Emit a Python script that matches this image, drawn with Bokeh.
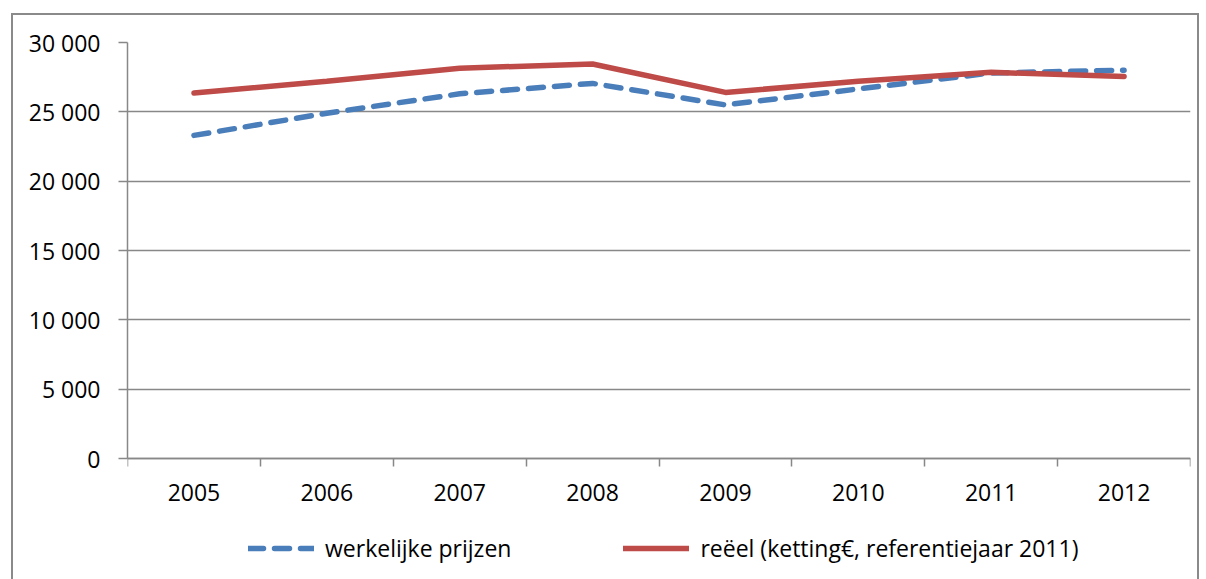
from bokeh.plotting import figure
from bokeh.models import FixedTicker, LinearAxis, Legend, LegendItem, Range1d
from bokeh.embed import file_html
from bokeh.resources import INLINE

years = ["2005", "2006", "2007", "2008", "2009", "2010", "2011", "2012"]
werkelijke = [23300, 24900, 26300, 27050, 25500, 26650, 27800, 28000]
reeel = [26350, 27200, 28150, 28450, 26400, 27200, 27850, 27550]
y_ticks = [0, 5000, 10000, 15000, 20000, 25000, 30000]
y_labels = ["0", "5 000", "10 000", "15 000", "20 000", "25 000", "30 000"]
series_names = ["werkelijke prijzen", "reëel (ketting€, referentiejaar 2011)"]

FONT = "Open Sans"
FS = "23px"
GRID = "#888888"

# layout (px, inside the outer border)
W, H = 1188, 570
TOP, LEFT, RIGHT = 27, 114, 11
ZERO_Y = 443            # pixel row of value 0
YMAX = y_ticks[-1]
px_per_unit = (ZERO_Y - TOP) / YMAX
y_start = -(H - ZERO_Y) / px_per_unit

n = len(years)
xc = [i + 0.5 for i in range(n)]

p = figure(width=W, height=H, output_backend="svg", toolbar_location=None,
           x_range=Range1d(0, n), y_range=Range1d(y_start, YMAX),
           x_axis_location=None,
           min_border_left=LEFT, min_border_right=RIGHT, min_border_top=TOP,
           min_border_bottom=0)
p.outline_line_color = None
p.background_fill_color = "white"
p.border_fill_color = "white"
p.styles = {"border": "2px solid #8a8a8a", "margin-left": "11px", "margin-top": "13px"}

# y axis
p.yaxis.ticker = FixedTicker(ticks=y_ticks)
p.yaxis.bounds = (0, YMAX)
p.yaxis.major_label_overrides = {t: l for t, l in zip(y_ticks, y_labels)}
p.yaxis.axis_line_color = GRID
p.yaxis.axis_line_width = 1.5
p.yaxis.major_tick_line_color = GRID
p.yaxis.major_tick_line_width = 1.5
p.yaxis.major_tick_out = 9
p.yaxis.major_tick_in = 0
p.yaxis.minor_tick_line_color = None
p.yaxis.major_label_standoff = 18
p.yaxis.major_label_text_font = FONT
p.yaxis.major_label_text_font_size = FS
p.yaxis.major_label_text_color = "black"

p.ygrid.ticker = FixedTicker(ticks=y_ticks)
p.ygrid.grid_line_color = GRID
p.ygrid.grid_line_width = 1.5
p.xgrid.visible = False

# x axis at value 0: labels at category centres, ticks at category boundaries
xaxis = LinearAxis(fixed_location=0,
                   ticker=FixedTicker(ticks=xc, minor_ticks=list(range(n + 1))),
                   major_label_overrides={c: y for c, y in zip(xc, years)})
xaxis.axis_line_color = GRID
xaxis.axis_line_width = 1.5
xaxis.major_tick_line_color = None
xaxis.major_tick_out = 0
xaxis.major_tick_in = 0
xaxis.minor_tick_line_color = GRID
xaxis.minor_tick_line_width = 1.5
xaxis.minor_tick_out = 8
xaxis.minor_tick_in = 0
xaxis.major_label_standoff = 17
xaxis.major_label_text_font = FONT
xaxis.major_label_text_font_size = FS
xaxis.major_label_text_color = "black"
p.add_layout(xaxis, "below")

r1 = p.line(xc, werkelijke, line_color="#4a7ebb", line_width=5.5,
            line_dash="15 11", line_cap="round")
r2 = p.line(xc, reeel, line_color="#be4b48", line_width=5.5, line_cap="round")

legend = Legend(items=[LegendItem(label=series_names[0], renderers=[r1]),
                       LegendItem(label=series_names[1], renderers=[r2])],
                orientation="horizontal", location=(121, 21))
legend.border_line_color = None
legend.background_fill_alpha = 0
legend.padding = 0
legend.margin = 0
legend.spacing = 112
legend.glyph_width = 66
legend.glyph_height = 26
legend.label_standoff = 11
legend.label_text_font = FONT
legend.label_text_font_size = FS
legend.label_text_color = "black"
p.add_layout(legend, "center")

open("out.html", "w").write(file_html(p, INLINE))
